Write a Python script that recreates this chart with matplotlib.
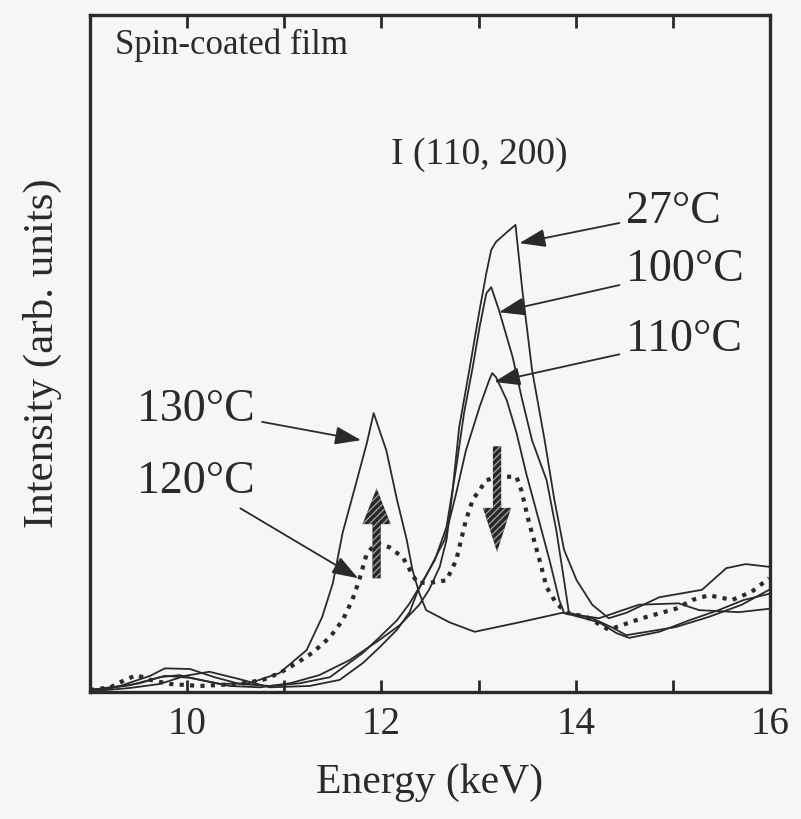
import matplotlib
matplotlib.use("Agg")
import matplotlib.pyplot as plt
from matplotlib.patches import FancyArrow

plt.rcParams['font.family'] = ['Liberation Serif', 'DejaVu Serif']

# ---- spectra: energy (keV) and intensity (arb. units) ----
e_27 = [9.00, 9.41, 9.72, 9.92, 10.13, 10.44, 10.75, 11.06, 11.36, 11.67, 11.98, 12.19,
        12.39, 12.49, 12.60, 12.67, 12.73, 12.80, 12.91, 13.01, 13.08, 13.13, 13.18, 13.29,
        13.38, 13.45, 13.55, 13.68, 13.78, 13.88, 14.01, 14.17, 14.34, 14.52, 14.86, 15.30,
        15.55, 15.75, 15.99]
i_27 = [0.3, 1.0, 2.2, 2.5, 1.8, 0.9, 0.7, 1.3, 2.5, 4.7, 7.7, 9.9,
        12.9, 15.1, 18.5, 22.5, 29.4, 39.1, 48.0, 56.4, 61.9, 65.3, 66.5, 67.9,
        69.0, 59.4, 47.6, 37.2, 28.4, 21.0, 16.5, 12.9, 10.9, 11.7, 14.0, 15.1,
        18.3, 18.9, 18.5]

e_100 = [9.00, 9.31, 9.62, 9.77, 10.03, 10.28, 10.54, 10.85, 11.16, 11.47, 11.81, 11.98,
         12.16, 12.29, 12.39, 12.55, 12.67, 12.77, 12.85, 12.94, 13.01, 13.08, 13.13, 13.21,
         13.35, 13.45, 13.55, 13.70, 13.80, 13.88, 13.93, 14.17, 14.38, 14.52, 14.86, 15.03,
         15.37, 15.71, 15.99]
i_100 = [0.3, 0.9, 2.4, 3.5, 3.4, 2.2, 1.2, 0.9, 1.3, 2.2, 5.8, 8.1,
         10.6, 13.1, 15.5, 19.5, 24.4, 33.2, 41.2, 48.0, 53.9, 58.9, 59.8, 56.4,
         49.5, 43.1, 37.2, 31.3, 23.9, 16.5, 11.7, 10.9, 9.5, 8.4, 9.2, 9.6,
         11.1, 12.9, 15.1]

e_110 = [9.00, 9.41, 9.72, 9.98, 10.23, 10.54, 10.85, 11.26, 11.57, 11.81, 11.98, 12.16,
         12.29, 12.37, 12.49, 12.65, 12.77, 12.87, 13.01, 13.11, 13.14, 13.18, 13.29, 13.39,
         13.49, 13.62, 13.73, 13.83, 13.88, 14.24, 14.42, 14.55, 14.86, 15.17, 15.47, 15.73,
         15.99]
i_110 = [0.1, 0.6, 1.2, 2.4, 3.0, 1.9, 0.7, 0.9, 1.8, 4.3, 6.6, 9.2,
         11.8, 14.8, 18.0, 22.5, 29.4, 35.7, 42.1, 46.1, 47.1, 46.5, 43.1, 38.3,
         32.3, 25.4, 19.5, 13.6, 11.7, 10.3, 8.7, 8.0, 8.9, 10.6, 12.1, 13.6,
         14.5]

e_120 = [9.00, 9.21, 9.36, 9.48, 9.62, 9.82, 10.13, 10.54, 10.78, 10.95, 11.13, 11.29,
         11.47, 11.60, 11.70, 11.77, 11.85, 11.95, 12.08, 12.22, 12.31, 12.37, 12.53, 12.67,
         12.77, 12.87, 12.94, 13.08, 13.21, 13.39, 13.44, 13.52, 13.62, 13.70, 13.80, 13.91,
         14.11, 14.34, 14.68, 15.03, 15.20, 15.37, 15.61, 15.81, 15.99]
i_120 = [0.3, 0.7, 1.8, 2.5, 1.8, 1.2, 0.9, 1.2, 1.8, 2.8, 4.3, 5.8,
         8.1, 10.6, 13.6, 16.5, 20.5, 22.0, 21.4, 19.9, 17.6, 16.1, 16.2, 16.5,
         19.5, 25.4, 28.4, 31.3, 31.8, 31.8, 29.8, 25.0, 19.9, 15.5, 13.1, 11.7,
         11.1, 9.2, 10.9, 12.3, 13.6, 14.3, 13.6, 14.8, 16.8]

e_130 = [9.00, 9.21, 9.51, 9.77, 10.03, 10.34, 10.64, 10.95, 11.23, 11.39, 11.50, 11.60,
         11.74, 11.85, 11.92, 12.05, 12.16, 12.26, 12.32, 12.39, 12.46, 12.70, 12.96, 13.42,
         13.86, 14.24, 14.65, 15.06, 15.27, 15.68, 15.99]
i_130 = [0.3, 0.6, 1.3, 2.4, 2.1, 1.2, 1.3, 2.8, 6.2, 11.1, 16.1, 23.5,
         30.9, 36.8, 41.2, 35.7, 28.4, 22.5, 18.0, 14.6, 12.1, 10.3, 8.9, 10.3,
         11.7, 10.9, 12.9, 13.1, 12.1, 11.8, 12.3]

x_major = [10, 12, 14, 16]
x_minor = [11, 13, 15]
x_top = [10, 11, 12, 13, 14, 15]

ink = '#2a2a2a'
bg = '#f6f6f4'

fig = plt.figure(figsize=(8.01, 8.19), dpi=100, facecolor=bg)
ax = fig.add_axes([0.1124, 0.155, 0.8489, 0.8267], facecolor=bg)

lw = 1.3
ax.plot(e_27, i_27, color=ink, lw=lw)
ax.plot(e_100, i_100, color=ink, lw=lw)
ax.plot(e_110, i_110, color=ink, lw=lw)
ax.plot(e_130, i_130, color=ink, lw=lw)
ax.plot(e_120, i_120, color=ink, lw=3.0, linestyle=(0, (1.0, 1.5)))

ax.set_xlim(9, 16)
ax.set_ylim(0, 100)

# frame and ticks
for sp in ax.spines.values():
    sp.set_linewidth(2.4)
    sp.set_color(ink)
ax.set_xticks(x_major)
ax.set_xticks(x_minor, minor=True)
ax.set_xticklabels([str(v) for v in x_major])
ax.tick_params(axis='x', which='both', direction='in', length=9, width=2,
               color=ink, labelsize=28, labelcolor=ink, pad=10)
ax.set_yticks([])

top = ax.secondary_xaxis('top')
top.set_xticks(x_top)
top.set_xticklabels([])
top.tick_params(axis='x', direction='in', length=9, width=2, color=ink)
top.spines['top'].set_visible(False)

ax.set_xlabel('Energy (keV)', fontsize=30, color=ink, labelpad=15)
ax.set_ylabel('Intensity (arb. units)', fontsize=31, color=ink, labelpad=20)

# labels
ax.text(0.037, 0.956, 'Spin-coated film', transform=ax.transAxes, fontsize=25,
        color=ink, ha='left', va='center')
ax.text(12.10, 79.3, 'I (110, 200)', fontsize=27, color=ink, ha='left', va='center')

fs = 33
arrow_kw = dict(arrowstyle='-|>,head_length=0.8,head_width=0.28', color=ink, lw=1.3,
                shrinkA=3, shrinkB=0, mutation_scale=20)
ax.annotate('27°C', xy=(13.42, 66.3), xytext=(14.52, 70.9), fontsize=fs, color=ink,
            ha='left', va='center', arrowprops=arrow_kw)
ax.annotate('100°C', xy=(13.21, 56.1), xytext=(14.52, 62.3), fontsize=fs, color=ink,
            ha='left', va='center', arrowprops=arrow_kw)
ax.annotate('110°C', xy=(13.16, 45.8), xytext=(14.52, 52.0), fontsize=fs, color=ink,
            ha='left', va='center', arrowprops=arrow_kw)
ax.annotate('130°C', xy=(11.79, 37.2), xytext=(10.70, 41.7), fontsize=fs, color=ink,
            ha='right', va='center', arrowprops=arrow_kw)
ax.annotate('120°C', xy=(11.76, 16.8), xytext=(10.70, 31.0), fontsize=fs, color=ink,
            ha='right', va='center', arrowprops=arrow_kw)

# hatched trend arrows
def trend_arrow(x, y, dy, head_len):
    base = FancyArrow(x, y, 0, dy, width=0.085, head_width=0.29, head_length=head_len,
                      length_includes_head=True, facecolor='#262626', edgecolor='none',
                      zorder=4)
    ax.add_patch(base)
    hatch = FancyArrow(x, y, 0, dy, width=0.085, head_width=0.29, head_length=head_len,
                       length_includes_head=True, facecolor='none', edgecolor='#9a9a9a',
                       hatch='/////', lw=0, zorder=5)
    ax.add_patch(hatch)

trend_arrow(11.95, 16.8, 13.3, 5.3)
trend_arrow(13.19, 36.3, -15.6, 6.5)

fig.savefig('out.png', dpi=100, facecolor=bg)
